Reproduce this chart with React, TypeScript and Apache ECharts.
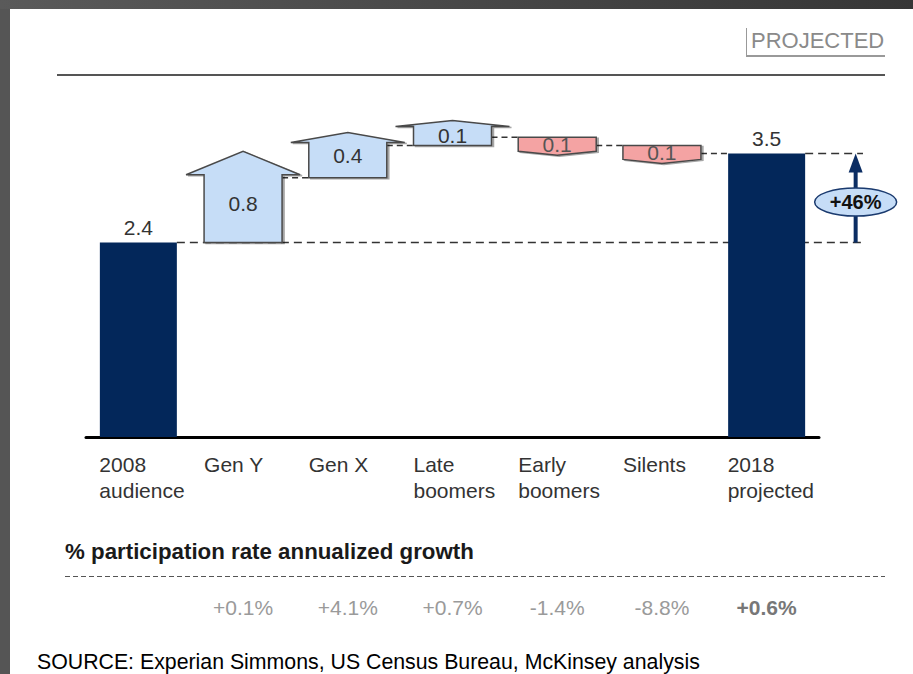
import React, { useEffect, useRef } from "react";
import * as echarts from "echarts";

const categories = [
  "2008\naudience",
  "Gen Y",
  "Gen X",
  "Late\nboomers",
  "Early\nboomers",
  "Silents",
  "2018\nprojected",
];
const startValue = 2.4;
const endValue = 3.5;
const changes = [0.8, 0.4, 0.1, -0.1, -0.1];
const growthLabels = ["", "+0.1%", "+4.1%", "+0.7%", "-1.4%", "-8.8%", "+0.6%"];
const headerText = "% participation rate annualized growth";
const sourceText = "SOURCE: Experian Simmons, US Census Bureau, McKinsey analysis";
const stampText = "PROJECTED";

const FONT = "'Liberation Sans', Arial, Helvetica, sans-serif";
const NAVY = "#03275a";
const BLUE = "#c6ddf7";
const PINK = "#f4a3a3";

export default function App() {
  const ref = useRef<HTMLDivElement>(null);

  useEffect(() => {
    if (!ref.current) return;
    const chart = echarts.init(ref.current, undefined, { renderer: "svg" });

    // build waterfall steps from the data
    const steps: number[][] = [];
    let level = startValue;
    changes.forEach((c, k) => {
      const next = Math.round((level + c) * 1000) / 1000;
      steps.push([k + 1, level, next]);
      level = next;
    });
    const barData = categories.map((_, i) =>
      i === 0 ? startValue : i === categories.length - 1 ? endValue : "-"
    );
    const last = categories.length - 1;

    const option: any = {
      animation: false,
      backgroundColor: "#ffffff",
      grid: { left: 86, right: 94, top: 72.5, bottom: 237, containLabel: false },
      xAxis: [
        {
          type: "category",
          data: categories,
          axisLine: { show: true, lineStyle: { color: "#000", width: 3 } },
          axisTick: { show: false },
          axisLabel: {
            interval: 0,
            margin: 14,
            formatter: (v: string) =>
              v
                .split("\n")
                .map((l) => `{a|${l}}`)
                .join("\n"),
            rich: {
              a: {
                width: 78,
                align: "left",
                fontSize: 21,
                lineHeight: 26,
                color: "#333",
                fontFamily: FONT,
              },
            },
          },
        },
        {
          type: "category",
          position: "bottom",
          offset: 150,
          data: growthLabels.map((g, i) =>
            i === last
              ? { value: g, textStyle: { fontWeight: "bold", color: "#777" } }
              : g
          ),
          axisLine: { show: false },
          axisTick: { show: false },
          axisLabel: {
            interval: 0,
            margin: 8,
            fontSize: 21,
            lineHeight: 24,
            color: "#9a9a9a",
            fontFamily: FONT,
          },
        },
      ],
      yAxis: { type: "value", min: 0, max: 4.5, show: false },
      series: [
        {
          type: "custom",
          name: "guides",
          clip: false,
          z: 1,
          data: [
            [0, startValue],
            [last, endValue],
          ],
          encode: { x: 0, y: 1 },
          renderItem: (params: any, api: any) => {
            const i = api.value(0);
            const v = api.value(1);
            const [cx, y] = api.coord([i, v]);
            const band = api.size([1, 0])[0];
            const xEnd = api.coord([last, 0])[0] + band * 0.92;
            return {
              type: "line",
              shape: { x1: cx + 38.5, y1: y, x2: xEnd, y2: y },
              style: { stroke: "#333", lineWidth: 1.5, lineDash: [8, 5] },
            };
          },
        },
        {
          type: "bar",
          name: "totals",
          data: barData,
          barWidth: 77,
          itemStyle: { color: NAVY },
          z: 2,
          label: {
            show: true,
            position: "top",
            distance: 5,
            fontSize: 21,
            color: "#333",
            fontFamily: FONT,
            formatter: (p: any) => String(p.value),
          },
        },
        {
          type: "custom",
          name: "changes",
          clip: false,
          z: 3,
          data: steps,
          encode: { x: 0, y: [1, 2] },
          renderItem: (params: any, api: any) => {
            const i = api.value(0);
            const s = api.value(1);
            const e = api.value(2);
            const [cx, ys] = api.coord([i, s]);
            const ye = api.coord([i, e])[1];
            const band = api.size([1, 0])[0];
            const w = 78;
            const xl = cx - w / 2;
            const xr = cx + w / 2;
            const up = e >= s;
            let top: number, bottom: number, points: number[][];
            if (up) {
              bottom = ys;
              top = Math.min(ye - 3, ys - 19);
              const h = Math.max(6, (bottom - top) * 0.42 - 5);
              points = [
                [xl, bottom],
                [xl, top],
                [xl - 18, top],
                [cx, top - h],
                [xr + 18, top],
                [xr, top],
                [xr, bottom],
              ];
            } else {
              top = ys;
              bottom = Math.max(ye, ys + 14);
              points = [
                [xl, top],
                [xr, top],
                [xr, bottom],
                [cx, bottom + 4],
                [xl, bottom],
              ];
            }
            const nextLeft = cx + band - 38.5;
            const boxH = bottom - top;
            return {
              type: "group",
              children: [
                {
                  type: "line",
                  shape: { x1: xr, y1: ye, x2: nextLeft, y2: ye },
                  style: { stroke: "#333", lineWidth: 1.5, lineDash: [6, 4] },
                },
                {
                  type: "polygon",
                  shape: { points },
                  style: {
                    fill: up ? BLUE : PINK,
                    stroke: "#4a4a4a",
                    lineWidth: 1.5,
                    shadowColor: "rgba(0,0,0,0.35)",
                    shadowOffsetX: 2,
                    shadowOffsetY: 1,
                    shadowBlur: 1,
                  },
                },
                {
                  type: "text",
                  style: {
                    text: Math.abs(e - s).toFixed(1),
                    x: cx,
                    y: (top + bottom) / 2 - (up && boxH > 25 ? 5 : 0),
                    align: "center",
                    verticalAlign: "middle",
                    fontSize: 21,
                    fontFamily: FONT,
                    fill: up ? "#333" : "#555",
                  },
                },
              ],
            };
          },
        },
        {
          type: "custom",
          name: "growth",
          clip: false,
          z: 4,
          data: [[last, startValue, endValue]],
          encode: { x: 0, y: [1, 2] },
          renderItem: (params: any, api: any) => {
            const i = api.value(0);
            const s = api.value(1);
            const e = api.value(2);
            const band = api.size([1, 0])[0];
            const [cx, yb] = api.coord([i, s]);
            const yt = api.coord([i, e])[1];
            const x = cx + band * 0.85;
            const cy = (yb + yt) / 2 + 4;
            const pct = Math.round((e / s - 1) * 100);
            return {
              type: "group",
              children: [
                {
                  type: "line",
                  shape: { x1: x, y1: yb, x2: x, y2: yt + 16 },
                  style: { stroke: "#0b2d63", lineWidth: 4 },
                },
                {
                  type: "polygon",
                  shape: {
                    points: [
                      [x - 7, yt + 19],
                      [x, yt],
                      [x + 7, yt + 19],
                    ],
                  },
                  style: { fill: "#0b2d63" },
                },
                {
                  type: "ellipse",
                  shape: { cx: x, cy, rx: 41, ry: 14 },
                  style: { fill: BLUE, stroke: "#1a3a6e", lineWidth: 1.5 },
                },
                {
                  type: "text",
                  style: {
                    text: `${pct >= 0 ? "+" : ""}${pct}%`,
                    x,
                    y: cy,
                    align: "center",
                    verticalAlign: "middle",
                    fontSize: 20,
                    fontWeight: "bold",
                    fontFamily: FONT,
                    fill: "#111",
                  },
                },
              ],
            };
          },
        },
      ],
      graphic: [
        {
          type: "rect",
          shape: { x: 0, y: 0, width: 10, height: 674 },
          style: { fill: "#555" },
          silent: true,
        },
        {
          type: "rect",
          shape: { x: 0, y: 0, width: 913, height: 9 },
          style: {
            fill: new echarts.graphic.LinearGradient(0, 0, 1, 0, [
              { offset: 0, color: "#5a5a5a" },
              { offset: 1, color: "#363636" },
            ]),
          },
          silent: true,
        },
        {
          type: "line",
          shape: { x1: 57, y1: 75, x2: 885, y2: 75 },
          style: { stroke: "#555", lineWidth: 2 },
        },
        {
          type: "line",
          shape: { x1: 746.5, y1: 28, x2: 746.5, y2: 56 },
          style: { stroke: "#999", lineWidth: 1 },
        },
        {
          type: "line",
          shape: { x1: 746, y1: 56, x2: 885, y2: 56 },
          style: { stroke: "#999", lineWidth: 2 },
        },
        {
          type: "text",
          x: 751,
          y: 40,
          style: {
            text: stampText,
            fontSize: 22,
            fontFamily: FONT,
            fill: "#8a8a8a",
            verticalAlign: "middle",
            align: "left",
          },
        },
        {
          type: "text",
          x: 65,
          y: 551,
          style: {
            text: headerText,
            fontSize: 22.3,
            fontWeight: "bold",
            fontFamily: FONT,
            fill: "#1a1a1a",
            verticalAlign: "middle",
            align: "left",
          },
        },
        {
          type: "line",
          shape: { x1: 65, y1: 576.5, x2: 885, y2: 576.5 },
          style: { stroke: "#555", lineWidth: 1, lineDash: [5, 3] },
        },
        {
          type: "text",
          x: 37,
          y: 662,
          style: {
            text: sourceText,
            fontSize: 21.3,
            fontFamily: FONT,
            fill: "#000",
            verticalAlign: "middle",
            align: "left",
          },
        },
      ],
    };

    chart.setOption(option);
    return () => chart.dispose();
  }, []);

  return (
    <div
      ref={ref}
      style={{ position: "absolute", left: 0, top: 0, width: 913, height: 674 }}
    />
  );
}
